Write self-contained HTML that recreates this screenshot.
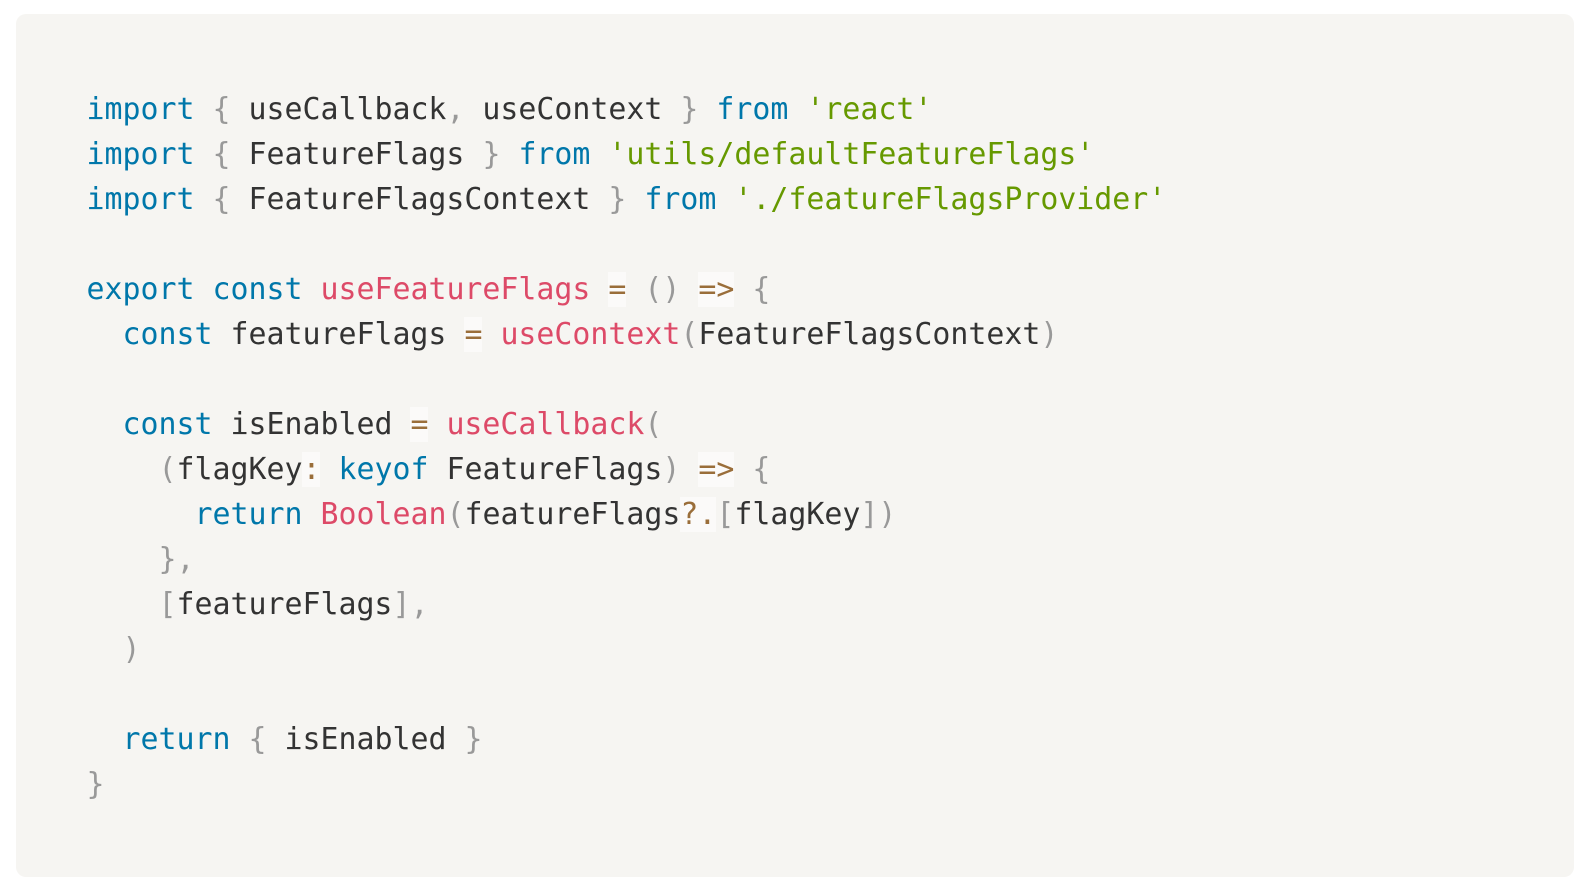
<!DOCTYPE html>
<html>
<head>
<meta charset="utf-8">
<style>
  html, body { margin: 0; padding: 0; background: #ffffff; }
  body { width: 1590px; height: 890px; position: relative; overflow: hidden; }
  .box {
    position: absolute; left: 16px; top: 14px; width: 1558px; height: 863px;
    background: #f6f5f2; border-radius: 10px;
  }
  pre {
    position: absolute; left: 70.5px; top: 72.5px; margin: 0;
    font-family: "DejaVu Sans Mono", "Liberation Mono", monospace;
    font-size: 29.9px; line-height: 45px; color: #333333;
    white-space: pre;
  }
  .k { color: #0077aa; }
  .f { color: #dd4a68; }
  .s { color: #669900; }
  .p { color: #999999; }
  .o { color: #9a6e3a; background: rgba(255,255,255,0.5); }
</style>
</head>
<body>
<div class="box">
<pre><span class="k">import</span> <span class="p">{</span> useCallback<span class="p">,</span> useContext <span class="p">}</span> <span class="k">from</span> <span class="s">'react'</span>
<span class="k">import</span> <span class="p">{</span> FeatureFlags <span class="p">}</span> <span class="k">from</span> <span class="s">'utils/defaultFeatureFlags'</span>
<span class="k">import</span> <span class="p">{</span> FeatureFlagsContext <span class="p">}</span> <span class="k">from</span> <span class="s">'./featureFlagsProvider'</span>

<span class="k">export</span> <span class="k">const</span> <span class="f">useFeatureFlags</span> <span class="o">=</span> <span class="p">(</span><span class="p">)</span> <span class="o">=&gt;</span> <span class="p">{</span>
  <span class="k">const</span> featureFlags <span class="o">=</span> <span class="f">useContext</span><span class="p">(</span>FeatureFlagsContext<span class="p">)</span>

  <span class="k">const</span> isEnabled <span class="o">=</span> <span class="f">useCallback</span><span class="p">(</span>
    <span class="p">(</span>flagKey<span class="o">:</span> <span class="k">keyof</span> FeatureFlags<span class="p">)</span> <span class="o">=&gt;</span> <span class="p">{</span>
      <span class="k">return</span> <span class="f">Boolean</span><span class="p">(</span>featureFlags<span class="o">?.</span><span class="p">[</span>flagKey<span class="p">]</span><span class="p">)</span>
    <span class="p">}</span><span class="p">,</span>
    <span class="p">[</span>featureFlags<span class="p">]</span><span class="p">,</span>
  <span class="p">)</span>

  <span class="k">return</span> <span class="p">{</span> isEnabled <span class="p">}</span>
<span class="p">}</span></pre>
</div>
</body>
</html>
